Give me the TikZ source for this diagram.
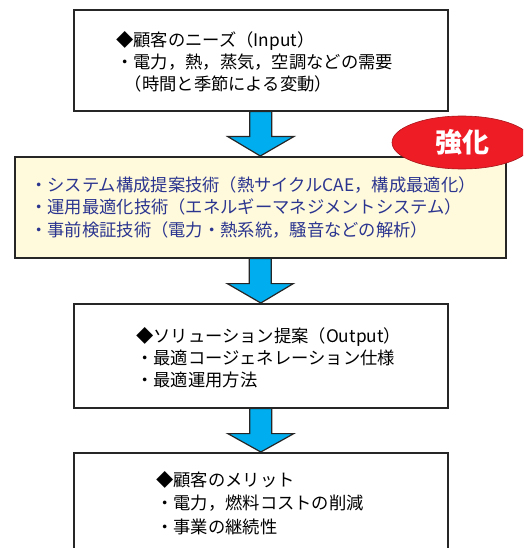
\documentclass[tikz,border=0pt]{standalone}
\usepackage{fontspec}
\setmainfont{Noto Sans CJK JP}
\usetikzlibrary{calc,shapes.geometric}
\definecolor{arrowblue}{HTML}{00AEEF}
\definecolor{boxyellow}{HTML}{FFFADB}
\definecolor{navy}{HTML}{2B3590}
\definecolor{kyoka}{HTML}{EE1C25}
\tikzset{
  x=1pt,y=1pt,
  whitebox/.style={draw=black!85,line width=1.6pt,fill=white,rectangle,inner sep=0pt,anchor=north west},
  yellowbox/.style={draw=black!85,line width=1.6pt,fill=boxyellow,rectangle,inner sep=0pt,anchor=north west},
  boxtext/.style={align=left,font=\fontsize{17.3}{22}\selectfont,inner sep=0pt,anchor=north west},
  bluearrow/.style={draw=black!85,line width=1.2pt,fill=arrowblue,line join=miter},
}
\begin{document}
\begin{tikzpicture}
\useasboundingbox (0,0) rectangle (523,-548);
\clip (0,0) rectangle (523,-548);
% boxes
\node[whitebox,minimum width=374,minimum height=101] (b1) at (73,-9) {};
\node[yellowbox,minimum width=491,minimum height=101] (b2) at (14,-156) {};
\node[whitebox,minimum width=374,minimum height=104] (b3) at (73,-303) {};
\node[whitebox,minimum width=374,minimum height=110] (b4) at (73,-452) {};
% arrows
\foreach \a/\b in {b1/b2,b2/b3,b3/b4}{
  \draw[bluearrow] ($(\a.south)+(-11,0)$) -- ++(0,-25) -- ++(-22,0) -- (\b.north)
     -- ($(\a.south)+(33,-25)$) -- ++(-22,0) -- ($(\a.south)+(11,0)$) -- cycle;
}
% texts
\node[boxtext] (t1) at (116,-31) {◆顧客のニーズ（Input）\\・電力，熱，蒸気，空調などの需要\\\hspace*{0.5em}（時間と季節による変動）};
\node[boxtext,text=navy,font=\fontsize{17.3}{22.5}\selectfont] (t2) at (30,-176) {・システム構成提案技術（熱サイクルCAE，構成最適化）\\・運用最適化技術（エネルギーマネジメントシステム）\\・事前検証技術（電力・熱系統，騒音などの解析）};
\node[boxtext] (t3) at (136,-327) {◆ソリューション提案（Output）\\・最適コージェネレーション仕様\\・最適運用方法};
\node[boxtext,font=\fontsize{17.3}{23.5}\selectfont] (t4) at (156,-471) {◆顧客のメリット\\・電力，燃料コストの削減\\・事業の継続性};
% badge
\node[ellipse,draw=kyoka!70!black,line width=0.6pt,fill=kyoka,minimum width=140,minimum height=53,inner sep=0pt] (badge) at (462,-142.5) {};
\node[text=white,font=\fontsize{27}{27}\selectfont\bfseries,inner sep=0pt] (badgetext) at (badge.center) {強化};
\end{tikzpicture}
\end{document}
